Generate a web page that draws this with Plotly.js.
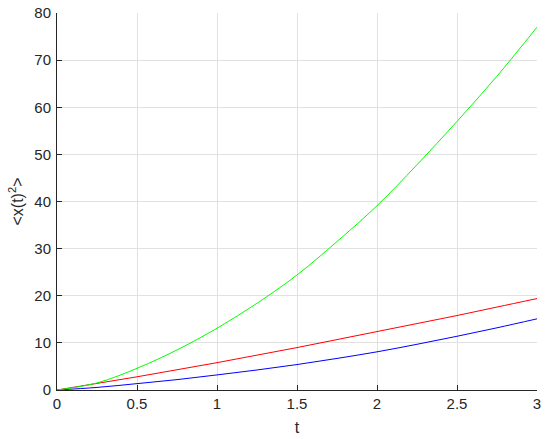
<!DOCTYPE html>
<html>
<head>
<meta charset="utf-8">
<script src="https://cdn.plot.ly/plotly-3.0.1.min.js"></script>
<style>
  body { margin: 0; background: #fff; }
  #plot { width: 550px; height: 439px; }
</style>
</head>
<body>
<div id="plot"></div>
<script>
// time points and mean squared displacement
var t = [0, 0.25, 0.5, 0.75, 1, 1.25, 1.5, 1.75, 2, 2.25, 2.5, 2.75, 3];
var msdGreen = [0, 1.5, 4.6, 8.5, 13.1, 18.4, 24.4, 31.5, 39.1, 47.8, 57.0, 66.6, 77.0];
var msdRed = [0, 1.4, 2.8, 4.3, 5.8, 7.4, 9.0, 10.7, 12.4, 14.1, 15.8, 17.6, 19.4];
var msdBlue = [0, 0.55, 1.35, 2.2, 3.2, 4.25, 5.4, 6.7, 8.1, 9.7, 11.4, 13.2, 15.1];

var xTicks = [0, 0.5, 1, 1.5, 2, 2.5, 3];
var xTickText = ["0", "0.5", "1", "1.5", "2", "2.5", "3"];
var yTicks = [0, 10, 20, 30, 40, 50, 60, 70, 80];

function curve(y, col) {
  return {
    x: t, y: y,
    mode: 'lines',
    line: {color: col, width: 1, shape: 'spline'},
    hoverinfo: 'skip'
  };
}

var data = [
  curve(msdBlue, '#0000ff'),
  curve(msdRed, '#ff0000'),
  curve(msdGreen, '#00ff00')
];

var axisText = '#262626';

var layout = {
  width: 550,
  height: 439,
  margin: {l: 57, r: 13, t: 13, b: 49},
  paper_bgcolor: '#ffffff',
  plot_bgcolor: '#ffffff',
  showlegend: false,
  font: {family: 'Liberation Sans, Arial, sans-serif', size: 15, color: axisText},
  xaxis: {
    range: [0, 3],
    tickvals: xTicks,
    ticktext: xTickText,
    ticks: 'inside',
    ticklen: 5,
    tickcolor: axisText,
    showline: true,
    linecolor: axisText,
    linewidth: 1,
    mirror: false,
    zeroline: false,
    showgrid: true,
    gridcolor: '#e1e1e1',
    gridwidth: 1,
    title: {text: 't', font: {size: 16, color: axisText}, standoff: 10}
  },
  yaxis: {
    range: [0, 80],
    tickvals: yTicks,
    ticks: 'inside',
    ticklen: 5,
    tickcolor: axisText,
    showline: true,
    linecolor: axisText,
    linewidth: 1,
    mirror: false,
    zeroline: false,
    showgrid: true,
    gridcolor: '#e1e1e1',
    gridwidth: 1,
    ticklabelstandoff: 2,
    title: {text: '&lt;x(t)<sup>2</sup>&gt;', font: {size: 16, color: axisText}, standoff: 6}
  }
};

Plotly.newPlot('plot', data, layout, {staticPlot: true, displayModeBar: false});
</script>
</body>
</html>
